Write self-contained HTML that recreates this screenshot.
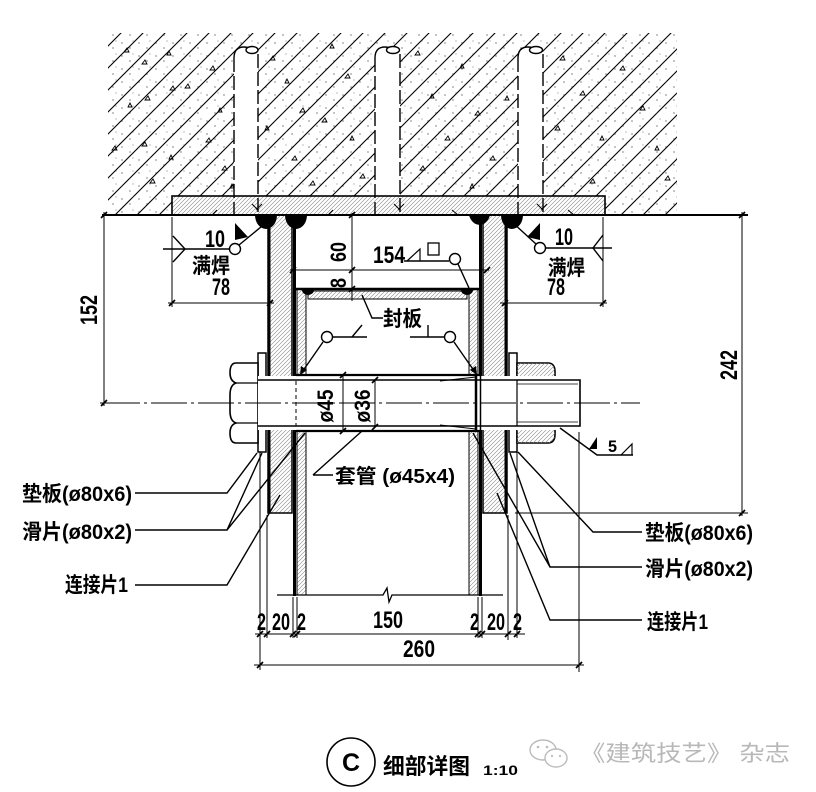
<!DOCTYPE html>
<html><head><meta charset="utf-8"><style>
html,body{margin:0;padding:0;background:#fff;}
svg{display:block;}
text{font-family:"Liberation Sans","Noto Sans CJK SC",sans-serif;fill:#000;font-weight:bold;}
</style></head><body>
<svg width="816" height="792" viewBox="0 0 816 792" xmlns="http://www.w3.org/2000/svg">
<defs>
<pattern id="ch" patternUnits="userSpaceOnUse" width="22" height="22"><path d="M0,22 L22,0 M-2,2 L2,-2 M20,24 L24,20" stroke="#000" stroke-width="1.1"/></pattern>
<pattern id="fh" patternUnits="userSpaceOnUse" width="4" height="4"><path d="M0,4 L4,0 M-1,1 L1,-1 M3,5 L5,3" stroke="#888" stroke-width="0.6"/></pattern>
<pattern id="dots" patternUnits="userSpaceOnUse" width="17" height="13"><circle cx="3" cy="4" r="0.6" fill="#333"/><circle cx="11" cy="9" r="0.6" fill="#333"/><circle cx="14" cy="2" r="0.5" fill="#555"/></pattern>
</defs>
<rect width="816" height="792" fill="#fff"/>

<!-- concrete -->
<rect x="108" y="33" width="569" height="182" fill="url(#ch)"/>
<rect x="108" y="33" width="569" height="182" fill="url(#dots)"/>
<g fill="none" stroke="#000" stroke-width="0.9">
<path d="M124,52 l5,0 l-2,-4z M142,64 l5,0 l-2,-4z M167,55 l4,0 l-2,-4z M170,90 l5,0 l-2,-4z M145,100 l5,0 l-2,-4z M128,107 l4,0 l-2,-4z M112,150 l5,0 l-2,-4z M142,146 l5,0 l-2,-4z M169,159 l4,0 l-2,-4z M185,88 l5,0 l-2,-4z M210,70 l5,0 l-2,-4z M218,112 l4,0 l-2,-4z M206,142 l5,0 l-2,-4z M222,170 l5,0 l-2,-4z M270,60 l5,0 l-2,-4z M285,83 l4,0 l-2,-4z M300,112 l5,0 l-2,-4z M292,160 l5,0 l-2,-4z M310,185 l5,0 l-2,-4z M330,48 l4,0 l-2,-4z M345,78 l5,0 l-2,-4z M322,122 l5,0 l-2,-4z M350,140 l4,0 l-2,-4z M360,178 l5,0 l-2,-4z M415,55 l5,0 l-2,-4z M430,98 l4,0 l-2,-4z M445,140 l5,0 l-2,-4z M420,170 l5,0 l-2,-4z M460,68 l4,0 l-2,-4z M475,115 l5,0 l-2,-4z M490,160 l5,0 l-2,-4z M505,100 l4,0 l-2,-4z M560,60 l5,0 l-2,-4z M580,95 l5,0 l-2,-4z M600,140 l4,0 l-2,-4z M620,70 l5,0 l-2,-4z M640,110 l5,0 l-2,-4z M655,150 l4,0 l-2,-4z M665,180 l5,0 l-2,-4z M590,183 l5,0 l-2,-4z M470,188 l4,0 l-2,-4z M150,183 l5,0 l-2,-4z M230,188 l4,0 l-2,-4z M555,130 l5,0 l-2,-4z M265,130 l4,0 l-2,-4z"/>
</g>
<!-- rods -->
<g fill="#fff" stroke="none">
<rect x="234" y="52" width="24" height="144"/>
<rect x="375" y="52" width="25" height="144"/>
<rect x="518" y="52" width="25" height="144"/>
</g>
<g fill="#fff" stroke="#000" stroke-width="1.4">
<path d="M234,58 Q234,47 244,47 Q250,47 252,51"/>
<ellipse cx="252" cy="50" rx="6" ry="3.5"/>
<path d="M375,58 Q375,47 385,47 Q391,47 393,51"/>
<ellipse cx="393" cy="50" rx="6.5" ry="3.5"/>
<path d="M518,58 Q518,47 528,47 Q534,47 536,51"/>
<ellipse cx="536" cy="50" rx="6.5" ry="3.5"/>
</g>

<!-- base plate -->
<rect x="172" y="196" width="433" height="19" fill="#fff"/>
<rect x="172" y="196" width="433" height="19" fill="url(#fh)" stroke="#000" stroke-width="1.6"/>
<g stroke="#000" stroke-width="1.4" stroke-dasharray="14,4" fill="none">
<path d="M234,58 V215 M258,54 V215 M375,58 V215 M400,54 V215 M518,58 V215 M543,54 V215"/>
</g>
<g stroke="#000" stroke-width="1">
<path d="M252,204 l6,6 M262,204 l-6,6 M394,204 l6,6 M404,204 l-6,6 M537,204 l6,6 M547,204 l-6,6 M217,210 l-5,5 M333,210 l-5,5 M452,210 l6,5 M568,210 l6,5"/>
</g>

<!-- top line -->
<line x1="102" y1="215" x2="748" y2="215" stroke="#000" stroke-width="2"/>

<!-- vertical plates -->
<rect x="268" y="215" width="24" height="298" fill="url(#fh)" stroke="#000" stroke-width="1.5"/>
<line x1="269" y1="215" x2="269" y2="513" stroke="#000" stroke-width="3"/>
<rect x="483" y="215" width="24" height="298" fill="url(#fh)" stroke="#000" stroke-width="1.5"/>
<line x1="506" y1="215" x2="506" y2="513" stroke="#000" stroke-width="3"/>
<!-- slides -->
<line x1="294.5" y1="217" x2="294.5" y2="596" stroke="#000" stroke-width="3"/>
<line x1="480.5" y1="217" x2="480.5" y2="596" stroke="#000" stroke-width="3"/>
<!-- box walls -->
<rect x="297" y="289" width="9" height="306" fill="url(#fh)" stroke="#000" stroke-width="1"/>
<rect x="469" y="289" width="9" height="306" fill="url(#fh)" stroke="#000" stroke-width="1"/>
<line x1="296" y1="289" x2="480" y2="289" stroke="#000" stroke-width="2.5"/>
<rect x="308" y="291" width="159" height="8" fill="url(#fh)" stroke="#000" stroke-width="1"/>
<path d="M302,290 a6,5 0 0 0 12,0 z M461,290 a6,5 0 0 0 12,0 z" fill="#000"/>
<!-- box bottom with break -->
<path d="M277,595 H383 L387,588 L389,602 L392,595 H503" fill="none" stroke="#000" stroke-width="1.3"/>

<!-- top welds -->
<path d="M255,215 A11,14 0 0 0 277,215 Z M285,215 A11,14 0 0 0 307,215 Z M469,215 A11,14 0 0 0 490,215 Z M501,215 A11,14 0 0 0 523,215 Z" fill="#000"/>

<!-- washers -->
<rect x="258" y="353" width="8" height="99" fill="#fff" stroke="#000" stroke-width="1.5"/>
<rect x="509" y="353" width="8" height="99" fill="#fff" stroke="#000" stroke-width="1.5"/>
<!-- nut -->
<path d="M517,363 H548 Q555,363 555,372 V434 Q555,443 548,443 H517 Z" fill="#fff" stroke="#000" stroke-width="1.6"/>
<path d="M517,363 H548 Q555,363 555,372 V434 Q555,443 548,443 H517 Z" fill="url(#fh)"/>
<!-- bolt head -->
<path d="M258,363 H236 Q230,363 230,373 Q230,381 236,383 Q230,385 230,395 V411 Q230,421 236,423 Q230,425 230,433 Q230,443 236,443 H258 Z" fill="#fff" stroke="#000" stroke-width="1.6"/>
<path d="M236,383 H258 M236,423 H258" stroke="#000" stroke-width="1.2"/>
<!-- bolt shank -->
<rect x="258" y="376" width="322" height="54" fill="#fff"/>
<path d="M258,380 H580 V426 H258" fill="none" stroke="#000" stroke-width="1.6"/>
<path d="M517,384 H578 M517,422 H578" stroke="#000" stroke-width="0.8"/>
<line x1="517" y1="380" x2="517" y2="426" stroke="#000" stroke-width="1.2"/>
<!-- sleeve -->
<path d="M296,375 H480 M296,431 H480" stroke="#000" stroke-width="2.2"/>
<line x1="296" y1="381" x2="296" y2="426" stroke="#000" stroke-width="1" stroke-dasharray="4,3"/>
<path d="M440,381 L476,377 M440,425 L476,429" stroke="#000" stroke-width="1"/>
<line x1="476" y1="375" x2="476" y2="431" stroke="#000" stroke-width="2.5"/>
<line x1="480.5" y1="375" x2="480.5" y2="431" stroke="#000" stroke-width="1.5"/>

<!-- centerline -->
<line x1="104" y1="403" x2="640" y2="403" stroke="#000" stroke-width="1" stroke-dasharray="36,4,3,4"/>

<!-- dims -->
<g stroke="#000" stroke-width="1" fill="none">
<path d="M343,375 V431 M375,380 V427"/>
<path d="M352,213 V301"/>
<path d="M290,270 H489"/>
<path d="M104,212 V406 M100,403 H110"/>
<path d="M742,212 V516 M515,513 H748"/>
<path d="M172,217 V307 M168,303 H274 M603,217 V307 M500,303 H607"/>
<path d="M260,452 V670 M267,515 V638 M293,597 V638 M297,597 V638 M478,597 V638 M482,597 V638 M508,515 V640 M517,452 V638 M579,432 V672"/>
<path d="M255,634 H525 M254,665 H584"/>
</g>
<g stroke="#000" stroke-width="1.7">
<path d="M340,378 l6,-6 M340,434 l6,-6 M372,383 l6,-6 M372,430 l6,-6 M349,218 l6,-6 M349,273 l6,-6 M349,292 l6,-6 M290,273 l6,-6 M484,273 l6,-6 M101,218 l6,-6 M101,406 l6,-6 M739,218 l6,-6 M739,516 l6,-6 M169,306 l6,-6 M267,306 l6,-6 M502,306 l6,-6 M600,306 l6,-6 M257,637 l6,-6 M264,637 l6,-6 M290,637 l6,-6 M294,637 l6,-6 M475,637 l6,-6 M479,637 l6,-6 M505,637 l6,-6 M514,637 l6,-6 M257,668 l6,-6 M576,668 l6,-6"/>
</g>

<!-- weld symbols & leaders -->
<g stroke="#000" stroke-width="1.4" fill="none">
<path d="M163,249 H230"/>
<path d="M173,236 L185,249 L173,262"/>
<circle cx="235" cy="249" r="5.5"/>
<path d="M239,245 L267,222"/>
<path d="M545,248 H612"/>
<path d="M603,235 L593,248 L603,261"/>
<circle cx="540" cy="248" r="5.5"/>
<path d="M536,244 L512,222"/>
<path d="M404,261 H449"/>
<circle cx="455" cy="259" r="5.5"/>
<path d="M458,264 L469,288"/>
<path d="M407,261 L420,249 V261" stroke-width="1.2"/>
<rect x="428" y="243" width="11" height="12" stroke-width="1.3"/>
<path d="M362,295 L372,318 H383"/>
<circle cx="327" cy="337" r="5.5"/>
<path d="M332,337 H367 M323,342 L300,375 M362,325 L352,337"/>
<circle cx="450" cy="337" r="5.5"/>
<path d="M410,337 H445 M454,342 L477,375 M428,325 V337"/>
<path d="M313,475 H333 M313,475 L362,431"/>
<path d="M135,493 H227 L257,453"/>
<path d="M135,530 H227 L262,453 M227,530 L305,433"/>
<path d="M135,585 H227 L280,495"/>
<path d="M642,532 H593 L518,452"/>
<path d="M642,567 H550 L510,453 M550,567 L473,433"/>
<path d="M642,620 H550 L497,493"/>
<path d="M560,428 L597,455 H633"/>
<path d="M621,455 L632,444 V455" stroke-width="1.2"/>
</g>
<g fill="#000">
<path d="M235,223 L235,240 L248,237 Z"/>
<path d="M540,223 L540,240 L527,237 Z"/>
<path d="M589,449 L597,449 L597,437 Z"/>
<path d="M300,375 l1,-9 l6,4 z"/>
<path d="M477,375 l-1,-9 l-6,4 z"/>
</g>

<!-- texts -->
<text x="205" y="247" font-size="24" textLength="20" lengthAdjust="spacingAndGlyphs">10</text>
<text x="192" y="273" font-size="21" textLength="38" lengthAdjust="spacingAndGlyphs">满焊</text>
<text x="212" y="295" font-size="24" textLength="18" lengthAdjust="spacingAndGlyphs">78</text>
<text x="555" y="245" font-size="24" textLength="18" lengthAdjust="spacingAndGlyphs">10</text>
<text x="548" y="275" font-size="21" textLength="37" lengthAdjust="spacingAndGlyphs">满焊</text>
<text x="547" y="295" font-size="24" textLength="18" lengthAdjust="spacingAndGlyphs">78</text>
<text x="373" y="263" font-size="24" textLength="32" lengthAdjust="spacingAndGlyphs">154</text>
<text x="383" y="326" font-size="21" textLength="39" lengthAdjust="spacingAndGlyphs">封板</text>
<text transform="translate(346,252) rotate(-90)" text-anchor="middle" font-size="22" textLength="20" lengthAdjust="spacingAndGlyphs">60</text>
<text transform="translate(346,283) rotate(-90)" text-anchor="middle" font-size="22" textLength="10" lengthAdjust="spacingAndGlyphs">8</text>
<text transform="translate(333,406) rotate(-90)" text-anchor="middle" font-size="22" textLength="33" lengthAdjust="spacingAndGlyphs">ø45</text>
<text transform="translate(370,406) rotate(-90)" text-anchor="middle" font-size="22" textLength="33" lengthAdjust="spacingAndGlyphs">ø36</text>
<text transform="translate(97,310) rotate(-90)" text-anchor="middle" font-size="24" textLength="30" lengthAdjust="spacingAndGlyphs">152</text>
<text transform="translate(737,365) rotate(-90)" text-anchor="middle" font-size="24" textLength="30" lengthAdjust="spacingAndGlyphs">242</text>
<text x="608" y="452" font-size="17" textLength="9" lengthAdjust="spacingAndGlyphs">5</text>
<text x="335" y="483" font-size="20" textLength="120" lengthAdjust="spacingAndGlyphs">套管 (ø45x4)</text>
<text x="22" y="501" font-size="21" textLength="110" lengthAdjust="spacingAndGlyphs">垫板(ø80x6)</text>
<text x="22" y="539" font-size="21" textLength="110" lengthAdjust="spacingAndGlyphs">滑片(ø80x2)</text>
<text x="65" y="592" font-size="21" textLength="63" lengthAdjust="spacingAndGlyphs">连接片1</text>
<text x="645" y="540" font-size="21" textLength="108" lengthAdjust="spacingAndGlyphs">垫板(ø80x6)</text>
<text x="645" y="576" font-size="21" textLength="108" lengthAdjust="spacingAndGlyphs">滑片(ø80x2)</text>
<text x="647" y="629" font-size="21" textLength="61" lengthAdjust="spacingAndGlyphs">连接片1</text>
<text x="257" y="630" font-size="24" textLength="9" lengthAdjust="spacingAndGlyphs">2</text>
<text x="272" y="630" font-size="24" textLength="18" lengthAdjust="spacingAndGlyphs">20</text>
<text x="297" y="630" font-size="24" textLength="9" lengthAdjust="spacingAndGlyphs">2</text>
<text x="373" y="628" font-size="24" textLength="30" lengthAdjust="spacingAndGlyphs">150</text>
<text x="470" y="630" font-size="24" textLength="9" lengthAdjust="spacingAndGlyphs">2</text>
<text x="487" y="630" font-size="24" textLength="18" lengthAdjust="spacingAndGlyphs">20</text>
<text x="513" y="630" font-size="24" textLength="9" lengthAdjust="spacingAndGlyphs">2</text>
<text x="403" y="657" font-size="24" textLength="32" lengthAdjust="spacingAndGlyphs">260</text>

<!-- title -->
<circle cx="351" cy="762" r="24" fill="none" stroke="#000" stroke-width="1.6"/>
<text x="351" y="771" font-size="25" text-anchor="middle">C</text>
<text x="383" y="774" font-size="22" textLength="87" lengthAdjust="spacingAndGlyphs">细部详图</text>
<text x="483" y="775" font-size="14" textLength="35" lengthAdjust="spacingAndGlyphs">1:10</text>
<!-- watermark -->
<g fill="none" stroke="#bbb" stroke-width="1.4">
<ellipse cx="543" cy="750" rx="13" ry="10"/>
<ellipse cx="556" cy="758" rx="11" ry="9" fill="#fff"/>
</g>
<g fill="#bbb"><circle cx="538" cy="747" r="1.3"/><circle cx="547" cy="747" r="1.3"/><circle cx="552" cy="756" r="1.1"/><circle cx="560" cy="756" r="1.1"/></g>
<text x="580" y="761" font-size="22" textLength="210" lengthAdjust="spacingAndGlyphs" style="fill:#b8b8b8;font-weight:normal">《建筑技艺》 杂志</text>
</svg>
</body></html>
